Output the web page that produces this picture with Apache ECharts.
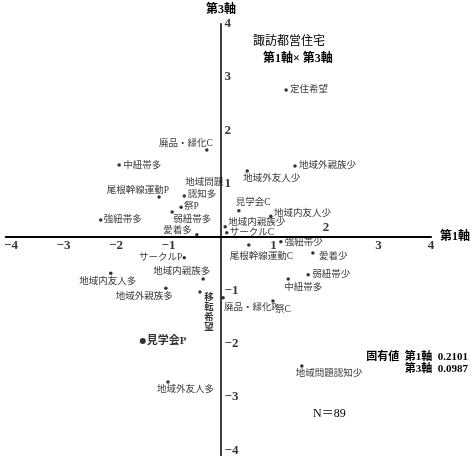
<!DOCTYPE html>
<html>
<head>
<meta charset="utf-8">
<script src="https://cdn.jsdelivr.net/npm/echarts@6/dist/echarts.min.js"></script>
<style>
  html, body { margin: 0; padding: 0; background: #fff; }
  #chart { width: 472px; height: 456px; }
</style>
</head>
<body>
<div id="chart"></div>
<script>
// Item categories and their scores on axis 1 (horizontal) and axis 3 (vertical)
const labels = [
  '定住希望', '廃品・緑化C', '中紐帯多', '尾根幹線運動P', '地域問題\n 認知多',
  '祭P', '弱紐帯多', '愛着多', '強紐帯多', 'サークルP',
  '地域内親族多', '地域内友人多', '地域外親族多', '移\n転\n希\n望', '見学会P',
  '地域外友人多', '地域外親族少', '地域外友人少', '見学会C', '地域内友人少',
  '地域内親族少', 'サークルC', '強紐帯少', '尾根幹線運動C', '愛着少',
  '弱紐帯少', '中紐帯多', '廃品・緑化P', '祭C', '地域問題認知少'
];
const axis1 = [
  1.24, -0.27, -1.94, -1.18, -0.70,
  -0.76, -0.93, -0.46, -2.29, -0.70,
  -0.34, -2.10, -1.05, -0.40, -1.49,
  -1.01, 1.41, 0.50, 0.34, 0.95,
  0.08, 0.11, 1.14, 0.53, 1.75,
  1.66, 1.28, 0.04, 0.99, 1.54
];
const axis3 = [
  2.76, 1.63, 1.35, 0.75, 0.77,
  0.56, 0.47, 0.04, 0.32, -0.39,
  -0.79, -0.68, -0.96, -1.03, -1.95,
  -2.72, 1.33, 1.24, 0.49, 0.39,
  0.19, 0.08, -0.09, -0.15, -0.30,
  -0.71, -0.79, -1.14, -1.20, -2.42
];
// Tick labels: on axis 1 most sit below the line, "2" sits above it
const xTicksBelow = [-4, -3, -2, -1, 1, 3, 4];
const xTicksAbove = [2];
const yTicks = [4, 3, 2, 1, -1, -2, -3, -4];

// Label placement next to each dot: text alignment and offset from the dot centre
const labelPlacement = [
  ['left', 4, 0], ['right', 6, -7], ['left', 4, 0], ['right', 10, -7], ['left', 1, -7],
  ['left', 3, -1], ['left', 1, 8], ['right', -5, -4], ['left', 3, 0], ['right', -2, 0],
  ['right', 7, -8], ['center', -3, 8], ['right', 7, 8], ['center', 9, 21], ['left', 4, 0],
  ['left', -11, 8], ['left', 4, -1], ['left', -4, 8], ['left', -3, -8], ['left', 3, -3],
  ['left', 3, -4], ['left', 3, 0], ['left', 4, 1], ['left', -19, 12], ['left', 6, 4],
  ['left', 4, 0], ['left', -4, 8], ['left', 1, 10], ['left', 2, 9], ['left', -6, 8]
];
const emphasised = '見学会P';
const verticalLabel = '移\n転\n希\n望';

const FONT = '"Liberation Serif", "Noto Sans CJK JP", serif';
const INK = '#000';
const fmtNum = v => (v < 0 ? '\u2212' : '') + Math.abs(v);

const points = labels.map((t, i) => {
  const [align, dx, dy] = labelPlacement[i];
  const big = t === emphasised;
  const vert = t === verticalLabel;
  return {
    name: t,
    value: [axis1[i], axis3[i]],
    symbolSize: big ? 6 : 3.5,
    label: {
      show: true,
      position: 'inside',
      align: align,
      verticalAlign: 'middle',
      offset: [dx, dy],
      formatter: t,
      fontFamily: FONT,
      fontSize: big ? 11 : 9.5,
      fontWeight: (big || vert) ? 'bold' : 'normal',
      lineHeight: vert ? 10 : 12,
      color: INK
    }
  };
});

// Numeric tick labels drawn at their axis positions through the same scales
const tickFont = { fontFamily: FONT, fontSize: 13, fontWeight: 'bold', color: INK };
const tickSeries = (values, onX, position, distance) => ({
  type: 'scatter',
  symbol: 'circle',
  symbolSize: 1,
  silent: true,
  itemStyle: { color: 'rgba(0,0,0,0)' },
  data: values.map(v => ({ value: onX ? [v, 0] : [0, v], name: fmtNum(v) })),
  label: Object.assign({ show: true, position: position, distance: distance, formatter: '{b}' }, tickFont)
});

const chart = echarts.init(document.getElementById('chart'), null, { renderer: 'canvas' });

chart.setOption({
  animation: false,
  backgroundColor: '#fff',
  grid: { left: 5.75, right: 41, top: 23.8, bottom: 0.5, outerBoundsMode: 'none', containLabel: false },
  xAxis: {
    type: 'value',
    min: -4.1,
    max: 4,
    name: '第1軸',
    nameLocation: 'end',
    nameGap: 9,
    nameTextStyle: { fontFamily: FONT, fontSize: 12, fontWeight: 'bold', color: INK, verticalAlign: 'middle' },
    splitLine: { show: false },
    axisTick: { show: false },
    axisLabel: { show: false },
    axisLine: { show: true, onZero: true, lineStyle: { color: INK, width: 2 } }
  },
  yAxis: {
    type: 'value',
    min: -4.1,
    max: 4,
    name: '第3軸',
    nameLocation: 'end',
    nameGap: 8,
    nameTextStyle: { fontFamily: FONT, fontSize: 12, fontWeight: 'bold', color: INK },
    splitLine: { show: false },
    axisTick: { show: false },
    axisLabel: { show: false },
    axisLine: { show: true, onZero: true, lineStyle: { color: INK, width: 1.5 } }
  },
  graphic: [
    { type: 'text', left: 253, top: 36, style: { text: '諏訪都営住宅', font: '12px ' + FONT, fill: INK } },
    { type: 'text', left: 263, top: 53, style: { text: '第1軸× 第3軸', font: 'bold 12px ' + FONT, fill: INK } },
    { type: 'text', right: 4, top: 352, style: { text: '固有値  第1軸  0.2101', font: 'bold 11px ' + FONT, fill: INK } },
    { type: 'text', right: 4, top: 364, style: { text: '第3軸  0.0987', font: 'bold 11px ' + FONT, fill: INK } },
    { type: 'text', left: 313, top: 408, style: { text: 'N\uFF1D89', font: '12px ' + FONT, fill: INK } }
  ],
  series: [
    {
      type: 'scatter',
      symbol: 'circle',
      itemStyle: { color: INK },
      data: points
    },
    tickSeries(xTicksBelow, true, 'bottom', 2),
    tickSeries(xTicksAbove, true, 'top', 2),
    tickSeries(yTicks, false, 'right', 3)
  ]
});
</script>
</body>
</html>
